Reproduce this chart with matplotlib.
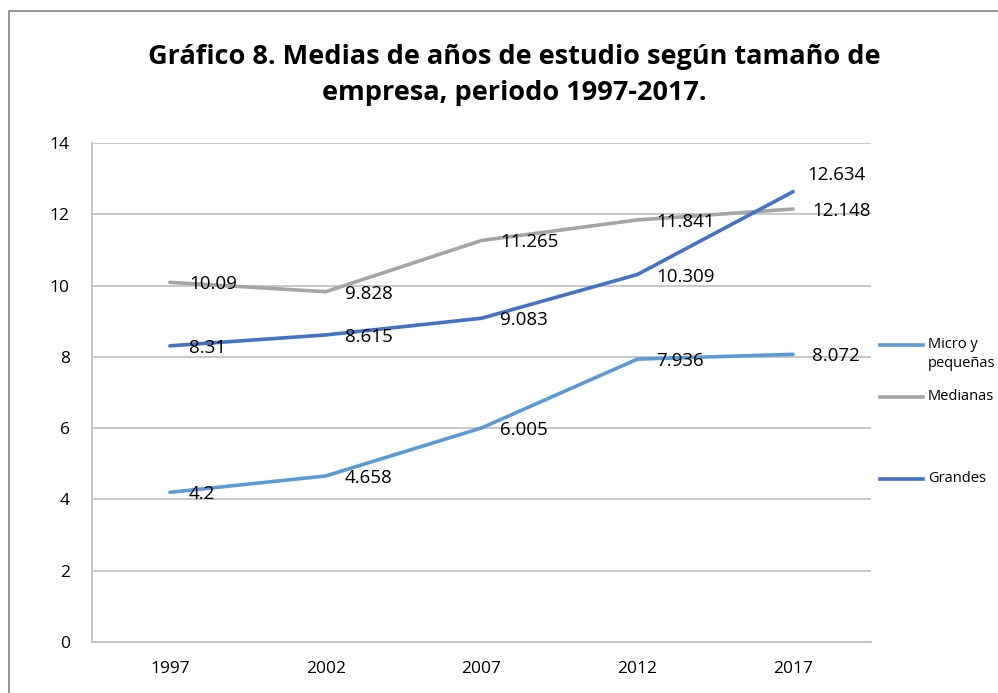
import matplotlib.pyplot as plt
from matplotlib.patches import Rectangle
from matplotlib.lines import Line2D

years = ["1997", "2002", "2007", "2012", "2017"]
micro = [4.2, 4.658, 6.005, 7.936, 8.072]
medianas = [10.09, 9.828, 11.265, 11.841, 12.148]
grandes = [8.31, 8.615, 9.083, 10.309, 12.634]

series = [
    ("Micro y\npequeñas", micro, "#5B9BD5"),
    ("Medianas", medianas, "#A5A5A5"),
    ("Grandes", grandes, "#4472C4"),
]

plt.rcParams['font.family'] = ['Open Sans', 'DejaVu Sans']

fig = plt.figure(figsize=(9.98, 6.93), dpi=100)
ax = fig.add_axes([92 / 998, 1 - 642 / 693, (871 - 92) / 998, (642 - 143) / 693])

x = list(range(len(years)))
for name, vals, color in series:
    ax.plot(x, vals, color=color, lw=2.6, label=name, solid_capstyle="round")

for name, vals, color in series:
    for i, v in enumerate(vals):
        txt = ("%.3f" % v).rstrip("0").rstrip(".")
        dx, dy = 19, -2
        if name == "Grandes" and i == 4:
            dx, dy = 14, 17
        ax.annotate(txt, (i, v), xytext=(dx * 0.72, dy * 0.72), textcoords="offset points",
                    ha="left", va="center", fontsize=13.5, color="#000000")

ax.set_xlim(-0.5, 4.5)
ax.set_ylim(0, 14)
ax.set_yticks(range(0, 15, 2))
ax.set_xticks(x)
ax.set_xticklabels(years)
ax.yaxis.grid(True, color="#BFBFBF", lw=1.2)
ax.set_axisbelow(True)
for s in ["top", "right"]:
    ax.spines[s].set_visible(False)
ax.spines["left"].set_color("#BFBFBF")
ax.spines["bottom"].set_color("#BFBFBF")
ax.spines["left"].set_linewidth(1.2)
ax.spines["bottom"].set_linewidth(1.2)
ax.tick_params(length=0, labelsize=12.5)
ax.tick_params(axis="y", pad=16)
ax.tick_params(axis="x", pad=14)

# legend entries placed like the Excel legend
leg_y = [345, 397, 479]
for (name, vals, color), ly in zip(series, leg_y):
    fy = 1 - ly / 693
    fig.add_artist(Line2D([880 / 998, 923 / 998], [fy, fy], color=color, lw=2.6,
                          transform=fig.transFigure))
    fig.text(928 / 998, fy + 0.012 if "\n" in name else fy, name, ha="left", va="top" if "\n" in name else "center",
             fontsize=10.5, linespacing=1.35)

fig.text(0.515, 1 - 75 / 693, "Gráfico 8. Medias de años de estudio según tamaño de\nempresa, periodo 1997-2017.",
         ha="center", va="center", fontsize=19.5, fontweight="bold", linespacing=1.5)

fig.patches.append(Rectangle((9 / 998, -0.1), 1.2, 1 - 11 / 693 + 0.1, transform=fig.transFigure,
                             fill=False, edgecolor="#8C8C8C", lw=1.3))

fig.savefig("out.png", dpi=100)
